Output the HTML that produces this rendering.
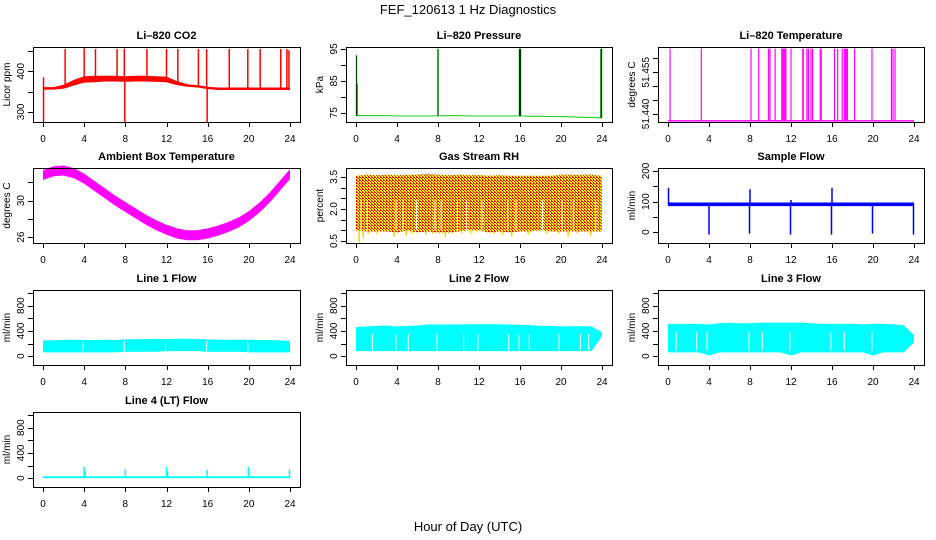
<!DOCTYPE html>
<html><head><meta charset="utf-8">
<style>
html,body{margin:0;padding:0;background:#fff;}
svg{display:block;font-family:"Liberation Sans",sans-serif;}
</style></head>
<body>
<svg id="chart" width="936" height="540" viewBox="0 0 936 540" xmlns="http://www.w3.org/2000/svg">
<defs>
<pattern id="rhdots" width="3" height="3" patternUnits="userSpaceOnUse">
<rect width="3" height="3" fill="#ffff00"/><rect x="0" y="0" width="1" height="1" fill="#ff0000"/><rect x="1" y="1" width="1" height="1" fill="#ff0000"/><rect x="2" y="2" width="1" height="1" fill="#ff0000"/><rect x="2" y="0" width="1" height="1" fill="#ff0000"/>
</pattern>
</defs>
<text x="468" y="14" text-anchor="middle" font-size="13">FEF_120613  1 Hz Diagnostics</text>
<text x="468" y="531" text-anchor="middle" font-size="13">Hour of Day (UTC)</text>
</svg>
<script>
// ---- data ----
const xTicks = [0,4,8,12,16,20,24];
const hours = [0,1,2,3,4,5,6,7,8,9,10,11,12,13,14,15,16,17,18,19,20,21,22,23,24];

const co2Mid = [358,358,362,372,380,381,382,382,381,382,382,381,380,371,365,363,359,357,357,357,357,357,357,357,357];
const co2Half = [3,3,5,7,8,8,7,7,7,7,7,7,7,5,3,3,3,3,3,3,3,3,3,3,3];
const co2SpikeT = [0.05,0.05,2.15,4.0,5.1,7.2,7.95,7.9,10.1,12.0,13.1,15.1,15.95,15.9,18.1,19.9,21.1,23.1,23.7,23.9];
const co2SpikeV = [275,385,455,457,455,455,275,456,455,455,455,455,275,455,455,455,455,455,455,452];

const presBase = [74.1,74.1,74.1,74.1,74.0,74.0,74.0,74.0,74.0,74.1,74.1,74.0,74.0,74.0,74.0,74.0,74.0,73.9,73.9,73.8,73.8,73.7,73.6,73.5,73.4];
const presSpikeT = [0.05,0.1,8.0,15.95,16.0,16.05,23.9,23.95];
const presSpikeV = [93,84,95,95,95,95,95,95];

const tempBase = 51.4375;
const tempSpikeT = [0.2,3.25,8.1,8.85,9.8,9.95,10.45,11.1,11.2,11.3,11.4,11.5,12.0,13.15,13.2,13.55,13.7,13.95,14.1,14.85,14.95,16.25,16.55,17.0,17.2,17.3,17.4,17.5,18.2,19.9,21.8,21.95,22.15];
const tempSpikeV = 51.4635;

const ambMid = [32.8,33.2,33.3,33.0,32.4,31.6,30.8,30.0,29.3,28.6,27.9,27.3,26.8,26.4,26.2,26.2,26.4,26.7,27.1,27.6,28.3,29.2,30.3,31.6,32.9];
const ambHalf = 0.55;

const rhHi = [3.55,3.6,3.58,3.6,3.58,3.6,3.6,3.62,3.6,3.58,3.6,3.58,3.58,3.55,3.58,3.55,3.55,3.55,3.55,3.55,3.6,3.6,3.6,3.6,3.55];
const rhLo = [1.0,0.95,0.95,0.95,0.9,1.0,0.9,0.95,0.9,0.9,0.95,1.0,1.0,0.9,0.95,0.9,0.95,0.95,1.0,0.95,0.95,0.95,0.95,0.95,0.95];
const rhDipT = [0.3,0.7,1.2,2.0,3.7,4.2,4.9,5.5,6.1,6.8,7.5,8.7,9.4,10.3,11.2,11.8,12.7,13.5,14.3,15.2,16.8,18.6,19.8,20.7,21.6,22.9];
const rhDipV = [0.45,0.65,0.85,0.85,0.7,0.9,0.75,0.85,0.9,0.8,0.85,0.7,0.85,0.85,0.85,0.9,0.9,0.85,0.8,0.7,0.8,0.85,0.85,0.7,0.85,0.75];

const sfLo = 85, sfHi = 97;
const sfSpikeT = [0.05,4.0,7.95,8.0,11.95,12.0,15.95,16.0,19.95,23.95];
const sfSpikeV = [145,-8,-5,140,-8,105,-8,145,-5,-8];

const l1Lo = [60,60,60,60,60,60,60,60,70,70,70,70,80,80,80,80,70,70,70,70,60,60,60,60,60];
const l1Hi = [250,250,255,260,255,255,260,255,265,270,270,275,270,275,275,270,265,260,260,260,260,255,255,250,240];
const l2Lo = [80,80,80,80,80,80,80,80,80,80,80,80,80,80,80,80,80,80,80,80,80,80,80,80,320];
const l2Hi = [460,470,480,485,470,480,485,500,500,500,500,505,505,505,505,500,495,490,480,480,470,475,475,470,380];
const l3Lo = [60,60,60,60,10,60,60,60,60,60,60,60,10,60,60,60,60,60,60,60,10,60,60,60,220];
const l3Hi = [510,510,510,510,500,520,530,520,520,530,530,530,530,530,520,510,510,510,510,500,510,510,500,490,330];
const flowGapT = [1.6,3.9,7.9,11.9,15.9,19.8,22.7];
const l4Base = 15;
const l4SpikeT = [4.0,4.1,8.0,12.0,12.1,15.95,19.95,20.0,23.95];
const l4SpikeV = [180,100,140,180,110,130,180,110,140];

// ---- layout ----
const NS = "http://www.w3.org/2000/svg";
const svg = document.getElementById('chart');
const cols = [[33,300],[346,612],[658,924]];
const rows = [47,168,290,412];
const H = 75;

function mk(tag, attrs, parent){
  const e = document.createElementNS(NS, tag);
  for (const k in attrs) e.setAttribute(k, attrs[k]);
  (parent||svg).appendChild(e);
  return e;
}

function panel(name, c, r, title, ylab, ymin, ymax, yt, ylabels){
  const L = cols[c][0], R = cols[c][1], T = rows[r], B = T + H;
  const g = mk('g', {});
  
  
  const X = t => L + 10 + t / 24 * (R - L - 20);
  const Y = v => T + (ymax - v) / (ymax - ymin) * H;
  const t = mk('text', {x:(L+R)/2, y:T-8, 'text-anchor':'middle', 'font-size':'11', 'font-weight':'bold'}, g);
  t.textContent = title;
  
  
  const plot = mk('g', {}, g);
  
  
  const ax = mk('g', {stroke:'#000', 'stroke-width':'1', fill:'none'}, g);
  
  
  mk('rect', {x:L+0.5, y:T+0.5, width:R-L, height:H}, ax);
  mk('line', {x1:X(0), x2:X(24), y1:B+0.5, y2:B+0.5}, ax);
  xTicks.forEach(v => {
    mk('line', {x1:Math.round(X(v))+0.5, x2:Math.round(X(v))+0.5, y1:B, y2:B+5}, ax);
    const tx = mk('text', {x:X(v), y:B+20, 'text-anchor':'middle', 'font-size':'10', fill:'#000', stroke:'none'}, g);
    tx.textContent = v;
    
    
  });
  mk('line', {x1:L+0.5, x2:L+0.5, y1:Y(yt[yt.length-1]), y2:Y(yt[0])}, ax);
  yt.forEach(v => {
    mk('line', {x1:L-5, x2:L, y1:Math.round(Y(v))+0.5, y2:Math.round(Y(v))+0.5}, ax);
  });
  ylabels.forEach(v => {
    const yy = Y(v), xx = L - 9;
    const tx = mk('text', {x:xx, y:yy, transform:`rotate(-90 ${xx} ${yy})`, 'text-anchor':'middle', 'font-size':'10'}, g);
    tx.textContent = v;
    
    
  });
  const yx = L - 23, yy = (T + B) / 2;
  const yl = mk('text', {x:yx, y:yy, transform:`rotate(-90 ${xx=yx} ${yy})`, 'text-anchor':'middle', 'font-size':'10'}, g);
  yl.textContent = ylab;
  
  
  return {X, Y, g:plot};
}
var xx;

function band(p, ts, lo, hi, fill){
  const pts = [];
  ts.forEach((t,i) => pts.push(p.X(t) + ',' + p.Y(hi[i])));
  for (let i = ts.length - 1; i >= 0; i--) pts.push(p.X(ts[i]) + ',' + p.Y(lo[i]));
  const e = mk('polygon', {points:pts.join(' '), fill:fill}, p.g);
  
  
}
function spikes(p, ts, base, vals, color, w){
  ts.forEach((t,i) => {
    const v = Array.isArray(vals) ? vals[i] : vals;
    const b = Array.isArray(base) ? base[i] : base;
    const e = mk('line', {x1:p.X(t), x2:p.X(t), y1:p.Y(b), y2:p.Y(v), stroke:color, 'stroke-width':w||1.5}, p.g);
    
    
  });
}
function gaps(p, ts, lo, hi){
  ts.forEach(t => {
    const e = mk('line', {x1:p.X(t), x2:p.X(t), y1:p.Y(hi), y2:p.Y(lo), stroke:'#fff', 'stroke-width':1}, p.g);
    
    
  });
}
function interp(arr, t){ const i = Math.min(23, Math.floor(t)); const f = t - i; return arr[i]*(1-f) + arr[i+1]*f; }

let p = panel('co2', 0, 0, 'Li\u2013820 CO2', 'Licor ppm', 275, 460, [300,350,400,450], [300,400]);
band(p, hours, co2Mid.map((m,i)=>m-co2Half[i]), co2Mid.map((m,i)=>m+co2Half[i]), '#ff0000');
spikes(p, co2SpikeT, co2SpikeT.map(t=>interp(co2Mid,t)), co2SpikeV, '#ff0000', 1.5);

p = panel('pressure', 1, 0, 'Li\u2013820 Pressure', 'kPa', 72.1, 95.6, [75,80,85,90,95], [75,85,95]);
band(p, hours, presBase.map(v=>v-0.15), presBase.map(v=>v+0.15), '#00cc00');
spikes(p, presSpikeT, presSpikeT.map(t=>interp(presBase,t)), presSpikeV, '#00cc00', 1.5);
spikes(p, presSpikeT, presSpikeT.map(t=>interp(presBase,t)), presSpikeV, '#000', 0.6);

p = panel('li820-temperature', 2, 0, 'Li\u2013820 Temperature', 'degrees C', 51.4371, 51.4641, [51.44,51.445,51.45,51.455,51.46], ['51.440','51.455']);
const tb = mk('line', {x1:p.X(0), x2:p.X(24), y1:p.Y(tempBase), y2:p.Y(tempBase), stroke:'#ff00ff', 'stroke-width':1.5}, p.g);


spikes(p, tempSpikeT, tempBase, tempSpikeV, '#ff00ff', 1.2);

p = panel('ambient-temperature', 0, 1, 'Ambient Box Temperature', 'degrees C', 25.35, 33.57, [26,28,30,32], [26,30]);
band(p, hours, ambMid.map(v=>v-ambHalf), ambMid.map(v=>v+ambHalf), '#ff00ff');

p = panel('gas-stream-rh', 1, 1, 'Gas Stream RH', 'percent', 0.408, 3.915, [0.5,1,1.5,2,2.5,3,3.5], ['0.5','2.0','3.5']);
band(p, hours, rhLo, rhHi, 'url(#rhdots)');
spikes(p, rhDipT, rhDipT.map(t=>interp(rhLo,t)), rhDipV, '#ffcc00', 1.5);
gaps(p, [0.5,1.1,3.9,4.6,5.9,7.7,8.3,9.9,10.8,12.3,14.8,15.6,18.2,20.1,21.2,23.4], 1.0, 2.4);

p = panel('sample-flow', 2, 1, 'Sample Flow', 'ml/min', -35.5, 209.7, [0,50,100,150,200], [0,100,200]);
band(p, [0,24], [sfLo,sfLo], [sfHi,sfHi], '#0000ff');
spikes(p, sfSpikeT, 90, sfSpikeV, '#0000ff', 1.5);

const fT = [0,200,400,600,800,1000], fL = [0,400,800];
p = panel('line1-flow', 0, 2, 'Line 1 Flow', 'ml/min', -140, 1047, fT, fL);
band(p, hours, l1Lo, l1Hi, '#00ffff');
gaps(p, [3.9,7.9,11.9,15.9,19.9], 80, 240);
p = panel('line2-flow', 1, 2, 'Line 2 Flow', 'ml/min', -140, 1047, fT, fL);
band(p, hours, l2Lo, l2Hi, '#00ffff');
gaps(p, flowGapT.concat([5.1,10.5,14.9,16.9,21.9]), 90, 350);
p = panel('line3-flow', 2, 2, 'Line 3 Flow', 'ml/min', -140, 1047, fT, fL);
band(p, hours, l3Lo, l3Hi, '#00ffff');
gaps(p, [0.8,3.8,7.9,11.9,15.9,19.9,2.8,9.2,17.2], 90, 380);
p = panel('line4-flow', 0, 3, 'Line 4 (LT) Flow', 'ml/min', -140, 1047, fT, fL);
band(p, [0,24], [0,0], [l4Base*2,l4Base*2], '#00ffff');
spikes(p, l4SpikeT, l4Base, l4SpikeV, '#00ffff', 1.5);
</script>
</body></html>
